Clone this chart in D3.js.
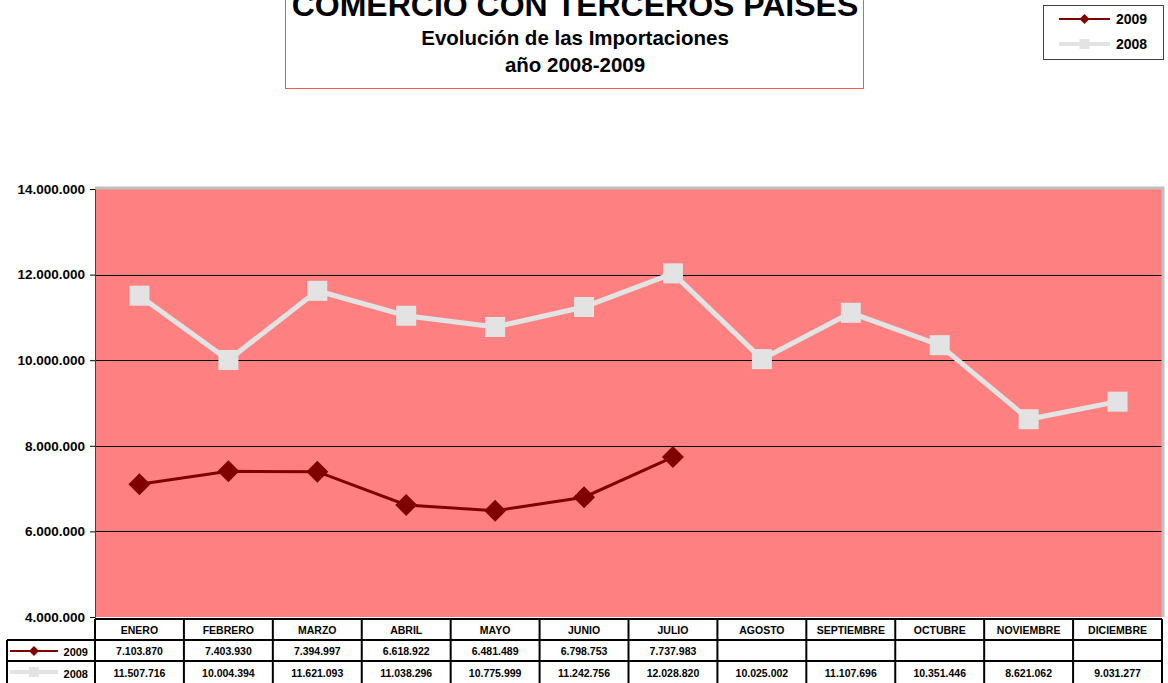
<!DOCTYPE html>
<html><head><meta charset="utf-8">
<script src="https://cdn.jsdelivr.net/npm/d3@7"></script>
<style>body{margin:0;background:#fff}svg{display:block;font-family:"Liberation Sans",Arial,sans-serif}</style>
</head><body>
<svg id="c" width="1168" height="683"></svg>
<script>
const months = ["ENERO","FEBRERO","MARZO","ABRIL","MAYO","JUNIO","JULIO","AGOSTO","SEPTIEMBRE","OCTUBRE","NOVIEMBRE","DICIEMBRE"];
const values2009 = [7103870,7403930,7394997,6618922,6481489,6798753,7737983,null,null,null,null,null];
const values2008 = [11507716,10004394,11621093,11038296,10775999,11242756,12028820,10025002,11107696,10351446,8621062,9031277];
const yTicks = [4000000,6000000,8000000,10000000,12000000,14000000];
const seriesNames = ["2009","2008"];
const titleLines = ["COMERCIO CON TERCEROS PAISES","Evolución de las Importaciones","año 2008-2009"];

const svg = d3.select("#c");
const loc = d3.formatLocale({decimal:",",thousands:".",grouping:[3],currency:["",""]});
const fmt = loc.format(",d");

const L=95, R=1162, T=189, B=617;
const x = d3.scaleBand().domain(months).range([L,R]).padding(0);
const y = d3.scaleLinear().domain([4000000,14000000]).range([B,T]);

svg.append("rect").attr("x",L).attr("y",T).attr("width",R-L).attr("height",B-T).attr("fill","#FF8080");
svg.append("g").selectAll("line").data(yTicks.filter(d=>d>4000000 && d<14000000)).join("line")
  .attr("x1",L).attr("x2",R).attr("y1",d=>Math.round(y(d))+0.5).attr("y2",d=>Math.round(y(d))+0.5)
  .attr("stroke","#000").attr("stroke-width",1);
svg.append("path").attr("d",`M${L},${T-1}H${R+1}V${B}`).attr("fill","none").attr("stroke","#c0c0c0").attr("stroke-width",3);
const ya = svg.append("g").attr("transform",`translate(${L},0)`)
  .call(d3.axisLeft(y).tickValues(yTicks).tickFormat(fmt).tickSize(5).tickPadding(5));
ya.select(".domain").attr("stroke","#404040");
ya.selectAll(".tick line").attr("stroke","#000");
ya.selectAll("text").attr("font-size",13.5).attr("font-weight","bold").attr("fill","#000").attr("font-family","Liberation Sans, Arial, sans-serif");

const cx = m => x(m)+x.bandwidth()/2;
const d08 = months.map((m,i)=>({m,v:values2008[i]}));
const d09 = months.map((m,i)=>({m,v:values2009[i]})).filter(d=>d.v!=null);
const line = d3.line().x(d=>cx(d.m)).y(d=>y(d.v));
svg.append("path").datum(d08).attr("d",line).attr("fill","none").attr("stroke","#E3E3E3").attr("stroke-width",5);
svg.append("g").selectAll("rect").data(d08).join("rect")
  .attr("x",d=>cx(d.m)-10).attr("y",d=>y(d.v)-10).attr("width",20).attr("height",20).attr("fill","#E3E3E3");
svg.append("path").datum(d09).attr("d",line).attr("fill","none").attr("stroke","#800000").attr("stroke-width",3);
const diamond = (px,py,r)=>`M${px},${py-r}L${px+r},${py}L${px},${py+r}L${px-r},${py}Z`;
svg.append("g").selectAll("path").data(d09).join("path")
  .attr("d",d=>diamond(cx(d.m),y(d.v),11)).attr("fill","#800000");

const rowY = [619,640,661,683];
const tg = svg.append("g");
const bw = x.bandwidth();
months.forEach((m,i)=>{
  tg.append("rect").attr("x",x(m)).attr("y",rowY[0]).attr("width",bw).attr("height",rowY[3]-rowY[0]).attr("fill","#fff");
});
tg.append("rect").attr("x",7).attr("y",rowY[1]).attr("width",L-7).attr("height",rowY[3]-rowY[1]).attr("fill","#fff");
const lines = [];
lines.push([L,rowY[0],R,rowY[0]]);
lines.push([7,rowY[1],R,rowY[1]]);
lines.push([7,rowY[2],R,rowY[2]]);
lines.push([7,rowY[1],7,rowY[3]]);
months.forEach(m=>lines.push([x(m),rowY[0],x(m),rowY[3]]));
lines.push([R,rowY[0],R,rowY[3]]);
tg.selectAll("line").data(lines).join("line")
  .attr("x1",d=>d[0]).attr("y1",d=>d[1]).attr("x2",d=>d[2]).attr("y2",d=>d[3])
  .attr("stroke","#000").attr("stroke-width",2);
const tt = (tx,ty,s,anchor,fs)=>tg.append("text").attr("x",tx).attr("y",ty).text(s)
  .attr("font-size",fs||10.5).attr("font-weight","bold").attr("text-anchor",anchor||"middle");
months.forEach((m,i)=>{
  tt(cx(m),rowY[0]+15,m);
  if(values2009[i]!=null) tt(cx(m),rowY[1]+15,fmt(values2009[i]));
  tt(cx(m),rowY[2]+16,fmt(values2008[i]));
});
function key(g,x0,x1,yy,s){
  const mx=(x0+x1)/2;
  if(s==="2009"){
    g.append("line").attr("x1",x0).attr("x2",x1).attr("y1",yy).attr("y2",yy).attr("stroke","#800000").attr("stroke-width",2);
    g.append("path").attr("d",diamond(mx,yy,5)).attr("fill","#800000");
  } else {
    g.append("line").attr("x1",x0).attr("x2",x1).attr("y1",yy).attr("y2",yy).attr("stroke","#E3E3E3").attr("stroke-width",4);
    g.append("rect").attr("x",mx-5).attr("y",yy-5).attr("width",10).attr("height",10).attr("fill","#E3E3E3");
  }
}
key(tg,10,58,rowY[1]+11,"2009");
key(tg,10,58,rowY[2]+11,"2008");
tt(88,rowY[1]+16,"2009","end",11);
tt(88,rowY[2]+17,"2008","end",11);

svg.append("rect").attr("x",285.5).attr("y",-5).attr("width",578).attr("height",93.5).attr("fill","#fff").attr("stroke","#FF5050").attr("stroke-width",1);
svg.append("text").attr("x",575).attr("y",16).attr("text-anchor","middle").attr("font-size",32).attr("font-weight","bold").text(titleLines[0]);
svg.append("text").attr("x",575).attr("y",45).attr("text-anchor","middle").attr("font-size",20.5).attr("font-weight","bold").text(titleLines[1]);
svg.append("text").attr("x",575).attr("y",72).attr("text-anchor","middle").attr("font-size",20.5).attr("font-weight","bold").text(titleLines[2]);

const lg = svg.append("g");
lg.append("rect").attr("x",1043.5).attr("y",5.5).attr("width",120).attr("height",54).attr("fill","#fff").attr("stroke","#404040");
[["2009",19],["2008",44]].forEach(([s,yy])=>{
  key(lg,1059,1110,yy,s);
  lg.append("text").attr("x",1116).attr("y",yy+5).text(s).attr("font-size",14).attr("font-weight","bold");
});
</script>
</body></html>
